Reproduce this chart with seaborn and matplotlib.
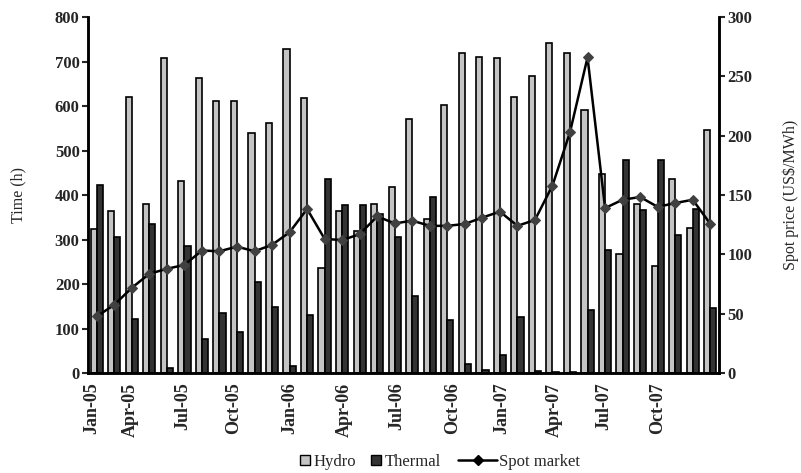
import numpy as np
import pandas as pd
import matplotlib
matplotlib.use("Agg")
import matplotlib.pyplot as plt
from matplotlib.patches import Patch
from matplotlib.lines import Line2D
import seaborn as sns

# ---- data ----
months = [d.strftime("%b-%y") for d in pd.date_range("2005-01-01", periods=36, freq="MS")]
hydro = [324, 365, 621, 380, 707, 431, 664, 612, 612, 539, 561, 728,
         617, 236, 365, 320, 380, 419, 571, 345, 602, 720, 709, 707,
         621, 668, 742, 720, 591, 448, 268, 380, 240, 435, 326, 547]
thermal = [423, 305, 122, 335, 11, 285, 77, 135, 92, 204, 148, 16,
           131, 436, 378, 378, 357, 305, 172, 395, 120, 21, 6, 40,
           126, 4, 2, 2, 141, 276, 478, 367, 478, 311, 369, 147]
spot = [47.7, 57.5, 71.8, 83.6, 87.8, 91.1, 103.2, 102.6, 106.5, 102.6, 108.0, 118.6,
        138.2, 113.0, 112.0, 117.0, 132.0, 126.0, 128.4, 124.0, 124.0, 125.6, 131.0, 136.0,
        124.0, 129.0, 158.0, 203.0, 266.0, 139.0, 146.0, 148.3, 140.0, 143.2, 146.0, 125.8]
tick_labels = ["Jan-05", "Apr-05", "Jul-05", "Oct-05", "Jan-06", "Apr-06",
               "Jul-06", "Oct-06", "Jan-07", "Apr-07", "Jul-07", "Oct-07"]
tick_label_pos = [-0.3, 1.9, 4.9, 7.8, 11.0, 14.1, 17.1, 20.3, 23.1, 26.1, 28.9, 32.0]

sns.set_style("white")
plt.rcParams["font.family"] = ["Liberation Serif", "DejaVu Serif"]
plt.rcParams["font.size"] = 11

fig = plt.figure(figsize=(8.01, 4.73), dpi=100)
ax = fig.add_axes([88 / 801, 1 - 373 / 473, 631 / 801, 356 / 473])

df = pd.DataFrame({
    "month": months * 2,
    "type": ["Hydro"] * 36 + ["Thermal"] * 36,
    "hours": hydro + thermal,
})
colors = {"Hydro": "#c4c4c4", "Thermal": "#333333"}
sns.barplot(data=df, x="month", y="hours", hue="type", order=months,
            hue_order=["Hydro", "Thermal"], palette=colors, edgecolor="black",
            linewidth=1.2, width=0.7, ax=ax, legend=False, saturation=1)

ax2 = ax.twinx()
sns.lineplot(x=np.arange(len(spot)), y=spot, ax=ax2, color="black", linewidth=1.8,
             marker="D", markersize=5.5, markerfacecolor="#404040",
             markeredgecolor="#404040", zorder=5)

ax.set_xlim(-0.5, 35.5)
ax.set_ylim(0, 800)
ax2.set_ylim(0, 300)
ax.set_yticks(np.arange(0, 801, 100))
ax2.set_yticks(np.arange(0, 301, 50))

ax.set_xticks(tick_label_pos)
ax.set_xticklabels(tick_labels, rotation=90, fontweight="bold")
ax.set_xticks(np.linspace(-0.5, 35.5, 20), minor=True)
ax.tick_params(axis="x", which="major", length=0, pad=7, labelsize=13)
ax.tick_params(axis="x", which="minor", length=4, width=1.5, direction="out", color="black")
ax.tick_params(axis="y", length=4, width=1.5, direction="out", pad=2, labelsize=12, left=True)
ax2.tick_params(axis="y", length=4, width=1.5, direction="out", pad=2, labelsize=12, right=True)
for t in ax.get_yticklabels() + ax2.get_yticklabels():
    t.set_fontweight("bold")

for a in (ax, ax2):
    a.spines["top"].set_visible(False)
    for s in ("left", "right", "bottom"):
        a.spines[s].set_linewidth(1.8)
        a.spines[s].set_color("black")
ax.set_xlabel("")
ax.set_ylabel("Time (h)", fontsize=11.5)
ax.yaxis.set_label_coords(-0.098, 0.5)
ax2.set_ylabel("Spot price (US$/MWh)", fontsize=11.5, rotation=90)
ax2.yaxis.set_label_coords(1.10, 0.5)

bar_handles = [
    Patch(facecolor=colors["Hydro"], edgecolor="black", linewidth=1.0, label="Hydro"),
    Patch(facecolor=colors["Thermal"], edgecolor="black", linewidth=1.0, label="Thermal"),
]
line_handle = [Line2D([0], [0], color="black", linewidth=1.8, marker="D", markersize=5,
                      markerfacecolor="black", label="Spot market")]
leg_y = 1 - 462 / 473
leg1 = fig.legend(handles=bar_handles, loc="center left", bbox_to_anchor=(300 / 801, leg_y),
                  ncol=2, frameon=False, prop={"size": 12}, handlelength=0.6,
                  handleheight=0.6, handletextpad=0.2, columnspacing=0.9,
                  borderpad=0, borderaxespad=0)
leg2 = fig.legend(handles=line_handle, loc="center left", bbox_to_anchor=(458 / 801, leg_y),
                  frameon=False, prop={"size": 12}, handlelength=2.35,
                  handletextpad=0.1, borderpad=0, borderaxespad=0)

fig.savefig("out.png", dpi=100)
